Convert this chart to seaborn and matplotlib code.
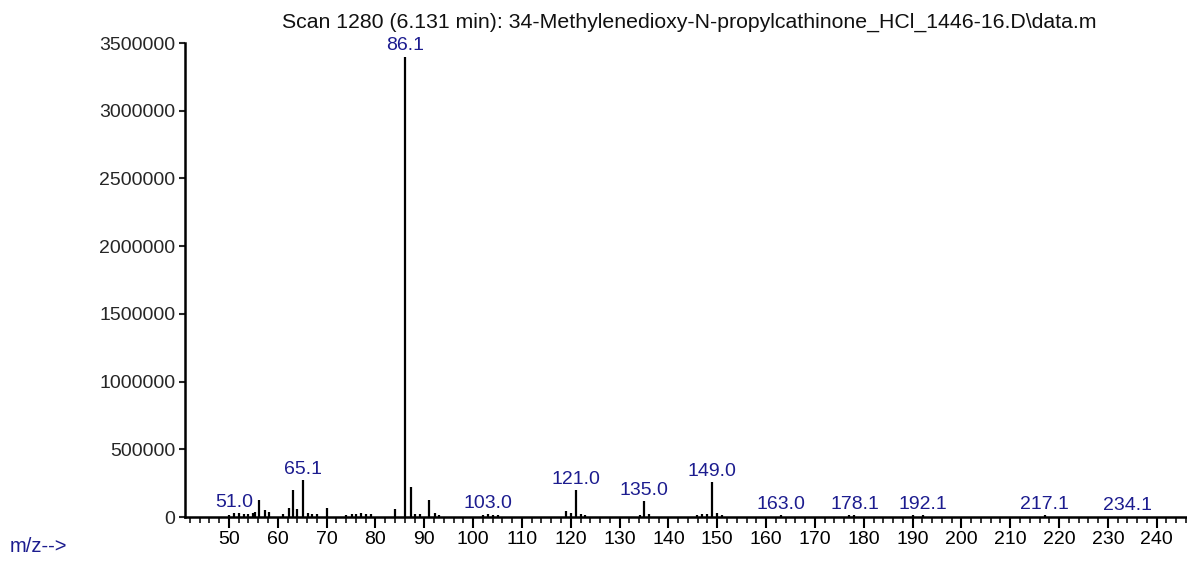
import matplotlib
matplotlib.use("Agg")
import matplotlib.pyplot as plt
import seaborn as sns
import numpy as np
from matplotlib.ticker import MultipleLocator

# =========================
# Data
# =========================
mz = [50.0, 51.0, 52.0, 53.0, 54.0, 54.9, 55.4, 56.1, 57.3, 58.2, 61.0, 62.2, 63.1,
      64.0, 65.1, 66.1, 67.1, 68.0, 70.0, 74.0, 75.1, 76.1, 77.1, 78.1, 79.1,
      84.0, 86.1, 87.2, 88.1, 89.1, 91.0, 92.1, 93.0,
      102.0, 103.0, 104.0, 105.0, 119.1, 120.0, 121.0, 122.0, 123.0,
      134.1, 135.0, 136.1, 145.9, 146.9, 147.9, 149.0, 150.0, 151.0,
      163.0, 176.9, 178.1, 190.0, 192.1, 217.1]
abundance = [18000, 28000, 28000, 22000, 22000, 30000, 35000, 125000, 50000, 35000, 20000, 66000, 200000,
             60000, 270000, 30000, 22000, 20000, 66000, 15000, 20000, 22000, 28000, 22000, 20000,
             60000, 3400000, 225000, 22000, 22000, 125000, 30000, 15000,
             15000, 22000, 18000, 15000, 45000, 30000, 200000, 22000, 15000,
             15000, 120000, 20000, 15000, 22000, 22000, 255000, 30000, 15000,
             12000, 12000, 15000, 15000, 15000, 15000]

label_mz = [51.0, 65.1, 86.1, 103.0, 121.0, 135.0, 149.0, 163.0, 178.1, 192.1, 217.1, 234.1]
label_abund = [28000, 270000, 3400000, 22000, 200000, 120000, 255000, 12000, 15000, 15000, 15000, 8000]

TITLE = "Scan 1280 (6.131 min): 34-Methylenedioxy-N-propylcathinone_HCl_1446-16.D\\data.m"
LABEL_BLUE = "#1c1c8f"

# =========================
# Style
# =========================
sns.set_theme(style="ticks")
plt.rcParams["font.family"] = ["Liberation Sans", "DejaVu Sans"]
plt.rcParams["font.size"] = 14

fig = plt.figure(figsize=(11.87, 5.67), dpi=100)
ax = fig.add_axes([185 / 1187, 1 - 517 / 567, 1 - 185 / 1187, (517 - 43) / 567])

ax.vlines(mz, 0, abundance, color="black", linewidth=1.6)

for m, a in zip(label_mz, label_abund):
    ax.annotate(f"{m:.1f}", (m, a), xytext=(0, 1.5), textcoords="offset points",
                ha="center", va="bottom", color=LABEL_BLUE, fontsize=14)

ax.set_xlim(41, 246.2)
ax.set_ylim(0, 3500000)
ax.xaxis.set_major_locator(MultipleLocator(10))
ax.xaxis.set_minor_locator(MultipleLocator(2))
ax.yaxis.set_major_locator(MultipleLocator(500000))
ax.set_xticks(np.arange(50, 241, 10))
ax.ticklabel_format(axis="y", style="plain")

ax.tick_params(axis="x", which="major", length=8, width=1.5, pad=2, labelsize=14, colors="black")
ax.tick_params(axis="x", which="minor", length=4, width=1.3)
ax.tick_params(axis="y", which="major", length=4, width=1.5, pad=3, labelsize=14)

for s in ["top", "right"]:
    ax.spines[s].set_visible(False)
for s in ["left", "bottom"]:
    ax.spines[s].set_linewidth(1.8)
    ax.spines[s].set_color("black")

ax.set_title(TITLE, fontsize=15.3, pad=11, color="#111111", x=0.5035)
fig.text(10 / 1187, 1 - 547 / 567, "m/z-->", color=LABEL_BLUE, fontsize=14.5, va="center", ha="left")

fig.savefig("out.png", dpi=100)
